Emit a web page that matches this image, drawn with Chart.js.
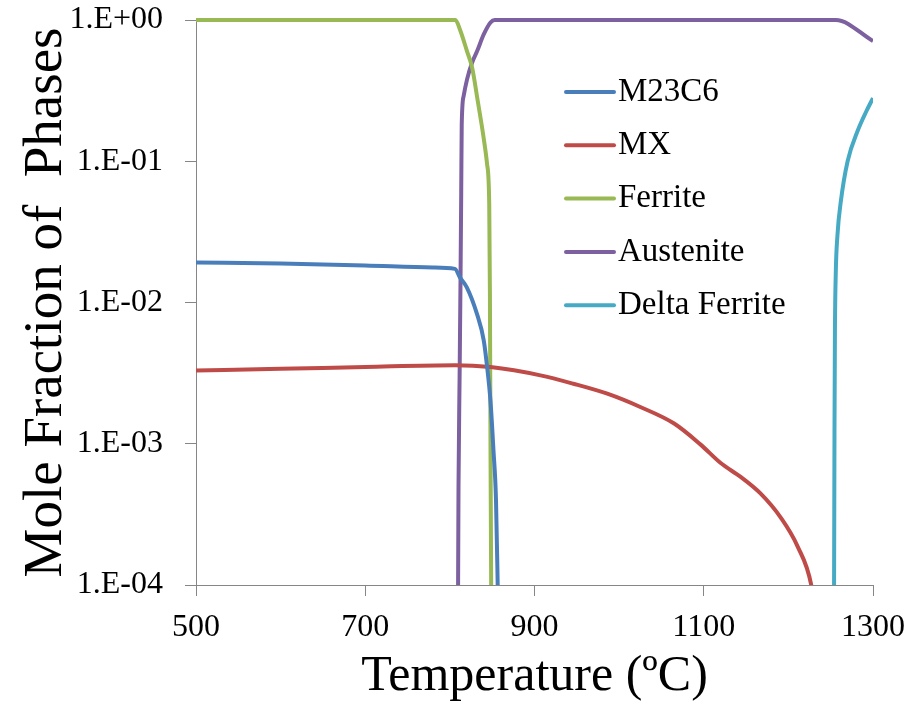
<!DOCTYPE html>
<html><head><meta charset="utf-8">
<script src="https://cdn.jsdelivr.net/npm/chart.js@4.4.0/dist/chart.umd.min.js"></script>
<style>html,body{margin:0;padding:0;background:#fff}#wrap{width:922px;height:711px}</style>
</head><body><div id="wrap"><canvas id="c" width="922" height="711"></canvas></div>
<script>
// ---- data ----
const seriesNames = ['M23C6', 'MX', 'Ferrite', 'Austenite', 'Delta Ferrite'];

const m23c6T = [500, 600, 700, 780, 806, 812, 820, 832, 840, 844, 848, 851.5, 854.5, 856.5, 858];
const m23c6V = [0.0192, 0.0189, 0.0183, 0.0177, 0.0173, 0.0150, 0.0128, 0.0083, 0.0054, 0.0035, 0.0020, 0.0009, 0.0004, 0.0001, 0.00003];

const mxT = [500, 600, 700, 806, 848, 907, 946, 986, 1025, 1065, 1096, 1120, 1144, 1167, 1191, 1211, 1227, 1232];
const mxV = [0.0033, 0.00339, 0.00350, 0.00360, 0.00349, 0.00305, 0.00266, 0.00226, 0.00182, 0.00139, 0.00099, 0.00073, 0.00058, 0.000445, 0.00030, 0.000187, 0.0001, 0.00006];

const ferriteT = [500, 806.5, 812.4, 820.3, 826.3, 832.9, 840, 844, 846.5, 847.3, 848, 848.8, 850];
const ferriteV = [1, 1, 0.84, 0.60, 0.46, 0.268, 0.145, 0.095, 0.05, 0.012, 0.001, 0.0001, 0.00002];

const austeniteT = [809.3, 809.7, 810.2, 811.5, 812.6, 813.4, 814, 816.3, 820.3, 826.3, 832.1, 840, 848, 853, 1256, 1300];
const austeniteV = [0.00002, 0.0001, 0.0005, 0.003, 0.015, 0.06, 0.18, 0.29, 0.38, 0.50, 0.60, 0.79, 0.96, 1.0, 1.0, 0.71];

const deltaT = [1253.5, 1254, 1254.5, 1255, 1256, 1258, 1262, 1270, 1282, 1292, 1300];
const deltaV = [0.00002, 0.0001, 0.0012, 0.006, 0.016, 0.03, 0.052, 0.1, 0.165, 0.225, 0.28];

const xTicks = [500, 700, 900, 1100, 1300];
const yTicks = [1, 0.1, 0.01, 0.001, 0.0001];
const yTickLabels = ['1.E+00', '1.E-01', '1.E-02', '1.E-03', '1.E-04'];
const xTitle = 'Temperature (ºC)';
const yTitle = 'Mole Fraction of  Phases';

// ---- styles ----
const colors = ['#4A7EBB', '#BE4B48', '#98B954', '#7D60A0', '#46AAC5'];
const FAM = "'Liberation Serif', 'Times New Roman', serif";
const seriesT = [m23c6T, mxT, ferriteT, austeniteT, deltaT];
const seriesV = [m23c6V, mxV, ferriteV, austeniteV, deltaV];

const datasets = seriesNames.map((name, k) => ({
  label: name,
  data: seriesT[k].map((t, i) => ({x: t, y: seriesV[k][i]})),
  borderColor: colors[k],
  backgroundColor: colors[k],
  borderWidth: 4,
  pointRadius: 0,
  fill: false,
  cubicInterpolationMode: 'monotone',
  clip: {left: 0, top: 4, right: 0, bottom: 0}
}));

const innerLegend = {
  id: 'innerLegend',
  afterDatasetsDraw(chart, args, o) {
    const ctx = chart.ctx;
    ctx.save();
    ctx.font = o.fontSize + 'px ' + FAM;
    ctx.textBaseline = 'middle';
    ctx.textAlign = 'left';
    chart.data.datasets.forEach((ds, i) => {
      const y = o.y0 + i * o.dy;
      ctx.strokeStyle = ds.borderColor;
      ctx.lineWidth = 4;
      ctx.lineCap = 'round';
      ctx.beginPath(); ctx.moveTo(o.x0, y); ctx.lineTo(o.x0 + o.len, y); ctx.stroke();
      ctx.fillStyle = '#000';
      ctx.fillText(ds.label, o.x0 + o.len + o.gap, y);
    });
    ctx.restore();
  }
};

new Chart(document.getElementById('c'), {
  type: 'line',
  data: {datasets},
  plugins: [innerLegend],
  options: {
    responsive: false,
    animation: false,
    devicePixelRatio: 1,
    layout: {padding: {top: 20, right: 49, left: 0, bottom: 0}},
    plugins: {
      legend: {display: false},
      tooltip: {enabled: false},
      innerLegend: {x0: 566, y0: 92, dy: 53.3, len: 48, gap: 4, fontSize: 33}
    },
    scales: {
      x: {
        type: 'linear', min: 500, max: 1300,
        afterBuildTicks: s => { s.ticks = xTicks.map(v => ({value: v})); },
        afterFit: s => { s.height = 126; },
        ticks: {font: {family: FAM, size: 32}, color: '#000', padding: 12, maxRotation: 0, callback: v => String(v)},
        grid: {drawOnChartArea: false, drawTicks: true, tickLength: 11, color: '#868686'},
        border: {display: true, color: '#868686', width: 1},
        title: {display: true, text: xTitle, color: '#000', font: {family: FAM, size: 50}, padding: {top: 0, bottom: 4}}
      },
      y: {
        type: 'logarithmic', min: 0.0001, max: 1,
        afterBuildTicks: s => { s.ticks = yTicks.map(v => ({value: v})); },
        afterFit: s => { s.width = 196; s.paddingTop = 0; s.paddingBottom = 0; },
        ticks: {font: {family: FAM, size: 32}, color: '#000', padding: 22,
          callback: v => { const i = yTicks.findIndex(t => Math.abs(Math.log10(t) - Math.log10(v)) < 1e-6); return i >= 0 ? yTickLabels[i] : ''; }},
        grid: {drawOnChartArea: false, drawTicks: true, tickLength: 11, color: '#868686'},
        border: {display: true, color: '#868686', width: 1},
        title: {display: true, text: yTitle, color: '#000', font: {family: FAM, size: 55}, padding: {top: 14, bottom: 0}}
      }
    }
  }
});
</script></body></html>
